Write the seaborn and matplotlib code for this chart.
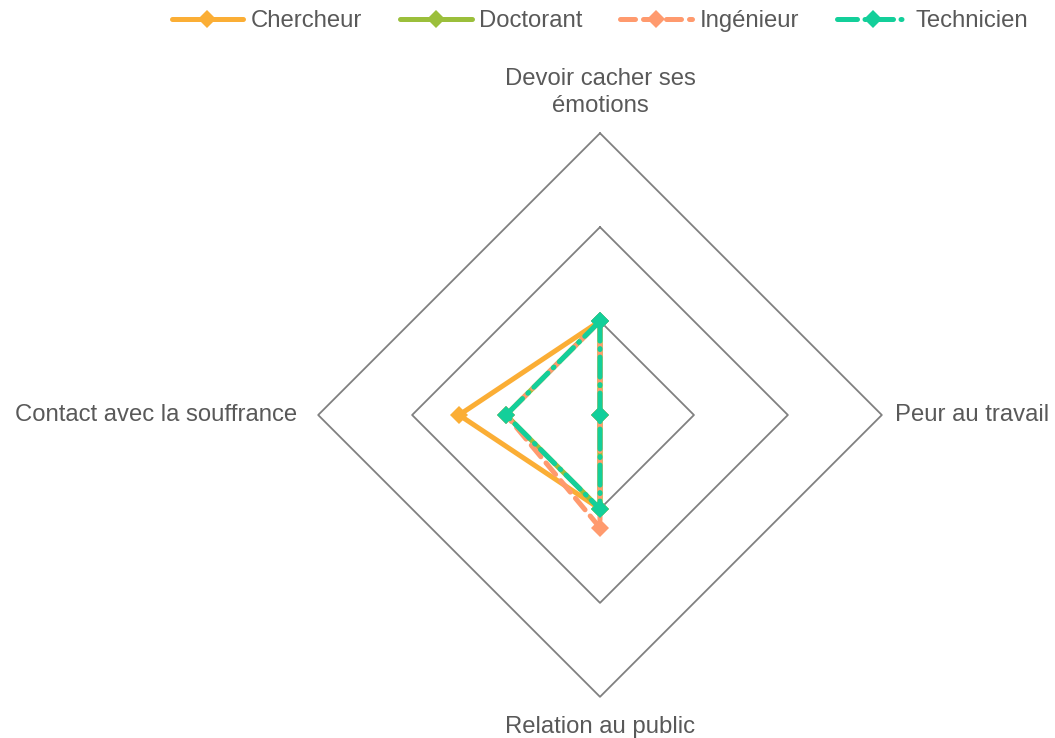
import numpy as np
import pandas as pd
import matplotlib
matplotlib.use("Agg")
import matplotlib.pyplot as plt
import seaborn as sns

# Axes of the radar (clockwise from top)
categories = ["Devoir cacher ses\némotions", "Peur au travail",
              "Relation au public", "Contact avec la souffrance"]
roles = ["Chercheur", "Doctorant", "Ingénieur", "Technicien"]
chercheur = [1.0, 0.0, 1.0, 1.5]
doctorant = [1.0, 0.0, 1.0, 1.0]
ingenieur = [1.0, 0.0, 1.2, 1.0]
technicien = [1.0, 0.0, 1.0, 1.0]
ring_levels = [1, 2, 3]

colors = {"Chercheur": "#FBAE35", "Doctorant": "#9BBF3B",
          "Ingénieur": "#FF9A6E", "Technicien": "#13CF9A"}
dashes = {"Chercheur": "", "Doctorant": "",
          "Ingénieur": (3.0, 1.6), "Technicien": (4, 1.5, 0.2, 1.5)}
text_color = "#595959"
grid_color = "#808080"


def main():
    sns.set_style("white")
    plt.rcParams["font.family"] = ["Liberation Sans", "DejaVu Sans"]

    n = len(categories)
    angles = np.arange(n) * 2 * np.pi / n
    closed = np.append(angles, angles[0])

    rows = []
    for role, vals in zip(roles, [chercheur, doctorant, ingenieur, technicien]):
        v = np.append(vals, vals[0])
        for i, (a, r) in enumerate(zip(closed, v)):
            rows.append({"role": role, "order": i,
                         "x": r * np.sin(a), "y": r * np.cos(a)})
    df = pd.DataFrame(rows)

    fig = plt.figure(figsize=(10.55, 7.38), dpi=100)
    lim = 3.3
    ax = fig.add_axes([290 / 1055, 13 / 738, 620 / 1055, 620 / 738])
    ax.set_xlim(-lim, lim)
    ax.set_ylim(-lim, lim)
    ax.axis("off")

    # Diamond grid rings
    for lvl in ring_levels:
        ax.plot(lvl * np.sin(closed), lvl * np.cos(closed),
                color=grid_color, lw=1.3, zorder=1)

    lw, ms = 3.6, 9
    sns.lineplot(data=df, x="x", y="y", hue="role", style="role",
                 hue_order=roles, style_order=roles, palette=colors,
                 dashes=dashes, markers={r: "D" for r in roles},
                 sort=False, estimator=None, linewidth=lw, markersize=ms,
                 markeredgewidth=0, ax=ax, zorder=3)

    for line in ax.get_lines():
        line.set_dash_capstyle("round")

    # Category labels
    fs = 17.2
    ax.text(0, 3.43, categories[0], ha="center", va="center",
            fontsize=fs, color=text_color, linespacing=1.3)
    ax.text(3.14, 0, categories[1], ha="left", va="center",
            fontsize=fs, color=text_color)
    ax.text(0, -3.32, categories[2], ha="center", va="center",
            fontsize=fs, color=text_color)
    ax.text(-3.22, 0, categories[3], ha="right", va="center",
            fontsize=fs, color=text_color)

    handles, labels = ax.get_legend_handles_labels()
    ax.get_legend().remove()
    for h in handles:
        h.set_linewidth(lw)
        h.set_markersize(ms)
        h.set_markeredgewidth(0)
        h.set_dash_capstyle("round")
    fig.legend(handles, labels, loc="center", ncol=4, frameon=False,
               bbox_to_anchor=(600 / 1055, 1 - 21 / 738), fontsize=fs,
               handlelength=3.0, handletextpad=0.3, columnspacing=1.6,
               labelcolor=text_color)

    fig.savefig("out.png", dpi=100, facecolor="white")


if __name__ == "__main__":
    main()
